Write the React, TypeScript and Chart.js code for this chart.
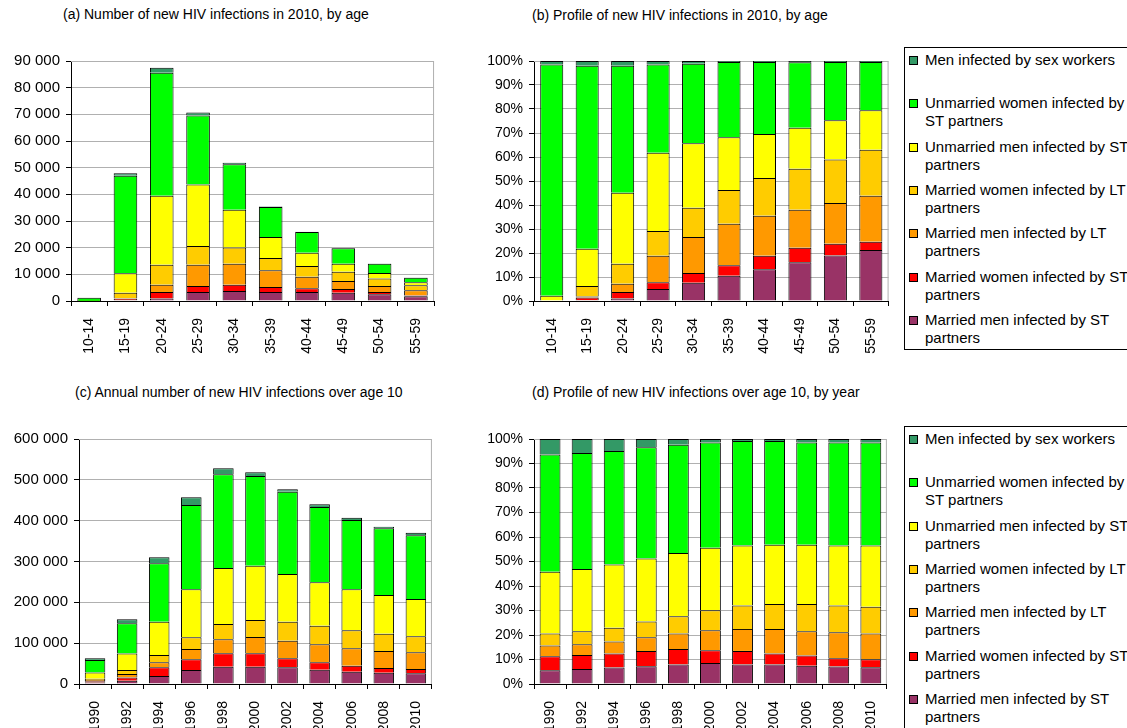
import React, { useEffect, useRef } from 'react';
import { Chart, registerables } from 'chart.js';

Chart.register(...registerables);

const SERIES_NAMES = [
  'Married men infected by ST partners',
  'Married women infected by ST partners',
  'Married men infected by LT partners',
  'Married women infected by LT partners',
  'Unmarried men infected by ST partners',
  'Unmarried women infected by ST partners',
  'Men infected by sex workers',
];
const SERIES_COLORS = ['#993366', '#FF0000', '#FF9900', '#FFCC00', '#FFFF00', '#00FF00', '#339966'];

const AGE_GROUPS = ['10-14', '15-19', '20-24', '25-29', '30-34', '35-39', '40-44', '45-49', '50-54', '55-59'];
const YEARS = ['1990', '1992', '1994', '1996', '1998', '2000', '2002', '2004', '2006', '2008', '2010'];

// (a) Number of new HIV infections in 2010, by age
const a_marriedMenST = [0, 250, 900, 3400, 3750, 3400, 3400, 3100, 2500, 1750];
const a_marriedWomenST = [0, 600, 2500, 2200, 2350, 1850, 1350, 1400, 900, 350];
const a_marriedMenLT = [0, 200, 2700, 8000, 7900, 6250, 4350, 3000, 2200, 1900];
const a_marriedWomenLT = [0, 2000, 7500, 7000, 6100, 4600, 4000, 3500, 2800, 1900];
const a_unmarriedMenST = [30, 7400, 25900, 23100, 14150, 7900, 5000, 3000, 2100, 1100];
const a_unmarriedWomenST = [1200, 36500, 46100, 25900, 17000, 11250, 7800, 5750, 3500, 1750];
const a_menSexWorkers = [20, 1000, 1900, 1100, 600, 200, 100, 100, 50, 50];

// (b) Profile of new HIV infections in 2010, by age (%)
const b_marriedMenST = [0, 0.3, 1.0, 5.0, 7.6, 10.55, 13.2, 16.1, 19.0, 21.25];
const b_marriedWomenST = [0, 1.2, 2.75, 2.8, 4.1, 4.35, 5.7, 6.1, 4.9, 3.45];
const b_marriedMenLT = [0, 0.4, 3.45, 11.1, 15.0, 17.3, 16.65, 15.85, 16.9, 19.2];
const b_marriedWomenLT = [0, 4.35, 8.35, 10.3, 12.2, 14.05, 15.7, 17.05, 18.2, 19.15];
const b_unmarriedMenST = [2.2, 15.55, 29.55, 32.6, 26.8, 21.95, 18.35, 17.1, 16.3, 16.4];
const b_unmarriedWomenST = [96.3, 76.25, 52.95, 36.7, 33.2, 31.4, 30.0, 27.25, 24.3, 20.15];
const b_menSexWorkers = [1.5, 1.95, 1.95, 1.5, 1.1, 0.4, 0.4, 0.55, 0.4, 0.4];

// (c) Annual number of new HIV infections over age 10
const c_marriedMenST = [3500, 8000, 19600, 34300, 42400, 42400, 40800, 35100, 30200, 27800, 26100];
const c_marriedWomenST = [3500, 8000, 21200, 26100, 32700, 32700, 22100, 18000, 14700, 11400, 10600];
const c_marriedMenLT = [2800, 8500, 12200, 25300, 34300, 40000, 43200, 44000, 42400, 41600, 40900];
const c_marriedWomenLT = [3000, 9500, 18000, 28600, 37500, 41600, 46600, 45800, 44100, 42500, 39100];
const c_unmarriedMenST = [15500, 41000, 81700, 117500, 137200, 133100, 116700, 106100, 100400, 94700, 91500];
const c_unmarriedWomenST = [30500, 73600, 142800, 206600, 229400, 219600, 201600, 184500, 169800, 163200, 155900];
const c_menSexWorkers = [4000, 9800, 14700, 18700, 14700, 9000, 5700, 6500, 5700, 4100, 6500];

// (d) Profile of new HIV infections over age 10, by year (%)
const d_marriedMenST = [5.6, 6.1, 6.7, 7.2, 8.0, 8.6, 8.0, 8.0, 7.5, 7.1, 6.8];
const d_marriedWomenST = [5.7, 5.75, 5.8, 6.3, 6.3, 5.2, 5.5, 4.5, 4.1, 3.4, 3.3];
const d_marriedMenLT = [4.4, 4.35, 4.8, 5.6, 6.3, 8.1, 9.0, 10.0, 9.9, 10.6, 10.5];
const d_marriedWomenLT = [4.9, 5.3, 5.7, 6.4, 7.1, 8.2, 9.5, 10.2, 11.2, 10.9, 10.9];
const d_unmarriedMenST = [25.2, 25.4, 25.8, 25.7, 25.8, 25.5, 24.5, 24.1, 24.1, 24.5, 25.0];
const d_unmarriedWomenST = [47.9, 47.4, 46.3, 45.4, 44.2, 43.0, 42.7, 42.4, 41.8, 42.1, 42.1];
const d_menSexWorkers = [6.3, 5.7, 4.9, 3.4, 2.3, 1.4, 0.8, 0.8, 1.4, 1.4, 1.4];

const A_SERIES = [a_marriedMenST, a_marriedWomenST, a_marriedMenLT, a_marriedWomenLT, a_unmarriedMenST, a_unmarriedWomenST, a_menSexWorkers];
const B_SERIES = [b_marriedMenST, b_marriedWomenST, b_marriedMenLT, b_marriedWomenLT, b_unmarriedMenST, b_unmarriedWomenST, b_menSexWorkers];
const C_SERIES = [c_marriedMenST, c_marriedWomenST, c_marriedMenLT, c_marriedWomenLT, c_unmarriedMenST, c_unmarriedWomenST, c_menSexWorkers];
const D_SERIES = [d_marriedMenST, d_marriedWomenST, d_marriedMenLT, d_marriedWomenLT, d_unmarriedMenST, d_unmarriedWomenST, d_menSexWorkers];

// legend order (top to bottom) with line breaks as in the original
const LEGEND_LINES: string[][] = [
  ['Men infected by sex workers'],
  ['Unmarried women infected by', 'ST partners'],
  ['Unmarried men infected by ST', 'partners'],
  ['Married women infected by LT', 'partners'],
  ['Married men infected by LT', 'partners'],
  ['Married women infected by ST', 'partners'],
  ['Married men infected by ST', 'partners'],
];
const LEGEND_COLORS = ['#339966', '#00FF00', '#FFFF00', '#FFCC00', '#FF9900', '#FF0000', '#993366'];

const FONT = '"Liberation Sans", Arial, Helvetica, sans-serif';

const framePlugin = {
  id: 'frame',
  beforeDatasetsDraw(chart: any) {
    const { ctx, chartArea: a } = chart;
    ctx.save();
    ctx.strokeStyle = '#b0b0b0';
    ctx.lineWidth = 1;
    ctx.beginPath();
    ctx.moveTo(a.left, a.top + 0.5);
    ctx.lineTo(a.right - 0.5, a.top + 0.5);
    ctx.lineTo(a.right - 0.5, a.bottom);
    ctx.stroke();
    ctx.restore();
  },
};

const spaceThousands = (v: number) => String(Math.round(v)).replace(/\B(?=(\d{3})+(?!\d))/g, ' ');

type PanelProps = {
  labels: string[];
  series: number[][];
  yMax: number;
  yStep: number;
  percent: boolean;
  left: number;
  top: number;
  width: number;
  height: number;
  padTop: number;
  padRight: number;
  yWidth: number;
  xHeight: number;
  yFont: number;
  barPct: number;
  xPad: number;
};

function Panel(p: PanelProps) {
  const ref = useRef<HTMLCanvasElement>(null);
  useEffect(() => {
    if (!ref.current) return;
    const chart = new Chart(ref.current, {
      type: 'bar',
      data: {
        labels: p.labels,
        datasets: p.series.map((vals, i) => ({
          label: SERIES_NAMES[i],
          data: vals,
          backgroundColor: SERIES_COLORS[i],
          borderColor: '#000000',
          borderWidth: 1,
          categoryPercentage: 1,
          barPercentage: p.barPct,
        })),
      },
      options: {
        responsive: false,
        animation: false,
        devicePixelRatio: 1,
        layout: { padding: { top: p.padTop, right: p.padRight, left: 0, bottom: 0 } },
        plugins: { legend: { display: false }, tooltip: { enabled: false }, title: { display: false } },
        scales: {
          x: {
            stacked: true,
            offset: true,
            grid: { offset: true, drawOnChartArea: false, drawTicks: true, tickLength: 5, tickColor: '#000', color: '#000' },
            border: { color: '#000', width: 1 },
            ticks: {
              autoSkip: false,
              minRotation: 90,
              maxRotation: 90,
              padding: p.xPad,
              color: '#000',
              font: { family: FONT, size: 14 },
            },
            afterFit: (s: any) => { s.height = p.xHeight; },
          },
          y: {
            stacked: true,
            min: 0,
            max: p.yMax,
            grid: { color: '#b0b0b0', tickColor: '#000', tickLength: 5, lineWidth: 1 },
            border: { color: '#000', width: 1 },
            ticks: {
              stepSize: p.yStep,
              padding: 6,
              color: '#000',
              font: { family: FONT, size: p.yFont },
              callback: (v: any) => (p.percent ? `${v}%` : spaceThousands(Number(v))),
            },
            afterFit: (s: any) => { s.width = p.yWidth; },
          },
        },
      },
      plugins: [framePlugin],
    });
    return () => chart.destroy();
  }, []);
  return (
    <canvas
      ref={ref}
      width={p.width}
      height={p.height}
      style={{ position: 'absolute', left: p.left, top: p.top, width: p.width, height: p.height }}
    />
  );
}

function Legend({ top, height }: { top: number; height: number }) {
  return (
    <div
      style={{
        position: 'absolute',
        left: 904,
        top,
        width: 260,
        height,
        border: '1px solid #000',
        boxSizing: 'border-box',
        fontFamily: FONT,
        fontSize: 15,
        color: '#000',
      }}
    >
      {LEGEND_LINES.map((lines, i) => (
        <div key={i}>
          <div
            style={{
              position: 'absolute',
              left: 4,
              top: 13 + i * 43.3 - 4 - 1,
              width: 7,
              height: 7,
              background: LEGEND_COLORS[i],
              border: '1px solid #000',
            }}
          />
          {lines.map((t, j) => (
            <div
              key={j}
              style={{
                position: 'absolute',
                left: 20,
                top: 13 + i * 43.3 + j * 18 - 9 - 1,
                lineHeight: '18px',
                whiteSpace: 'nowrap',
              }}
            >
              {t}
            </div>
          ))}
        </div>
      ))}
    </div>
  );
}

function Title({ text, left, cy }: { text: string; left: number; cy: number }) {
  return (
    <div
      style={{
        position: 'absolute',
        left,
        top: cy - 9,
        lineHeight: '18px',
        fontFamily: FONT,
        fontSize: 14,
        color: '#000',
        whiteSpace: 'nowrap',
      }}
    >
      {text}
    </div>
  );
}

export default function App() {
  return (
    <div
      style={{
        position: 'fixed',
        left: 0,
        top: 0,
        width: 1127,
        height: 728,
        overflow: 'hidden',
        background: '#fff',
      }}
    >
      <Title text="(a) Number of new HIV infections in 2010, by age" left={63} cy={14} />
      <Title text="(b) Profile of new HIV infections in 2010, by age" left={532} cy={15} />
      <Title text="(c) Annual number of new HIV infections over age 10" left={75} cy={392} />
      <Title text="(d) Profile of new HIV infections over age 10, by year" left={532} cy={392} />

      <Panel
        labels={AGE_GROUPS}
        series={A_SERIES}
        yMax={90000}
        yStep={10000}
        percent={false}
        left={0}
        top={30}
        width={445}
        height={340}
        padTop={31}
        padRight={6}
        yWidth={71}
        xHeight={69}
        yFont={15}
        barPct={0.65}
        xPad={12}
      />
      <Panel
        labels={AGE_GROUPS}
        series={B_SERIES}
        yMax={100}
        yStep={10}
        percent={true}
        left={445}
        top={30}
        width={455}
        height={340}
        padTop={31}
        padRight={7}
        yWidth={89}
        xHeight={69}
        yFont={14}
        barPct={0.65}
        xPad={12}
      />
      <Panel
        labels={YEARS}
        series={C_SERIES}
        yMax={600000}
        yStep={100000}
        percent={false}
        left={0}
        top={410}
        width={445}
        height={340}
        padTop={29}
        padRight={7}
        yWidth={79}
        xHeight={66}
        yFont={15}
        barPct={0.64}
        xPad={12}
      />
      <Panel
        labels={YEARS}
        series={D_SERIES}
        yMax={100}
        yStep={10}
        percent={true}
        left={445}
        top={410}
        width={455}
        height={340}
        padTop={29}
        padRight={8}
        yWidth={89}
        xHeight={66}
        yFont={14}
        barPct={0.65}
        xPad={12}
      />

      <Legend top={47} height={303} />
      <Legend top={426} height={320} />
    </div>
  );
}
